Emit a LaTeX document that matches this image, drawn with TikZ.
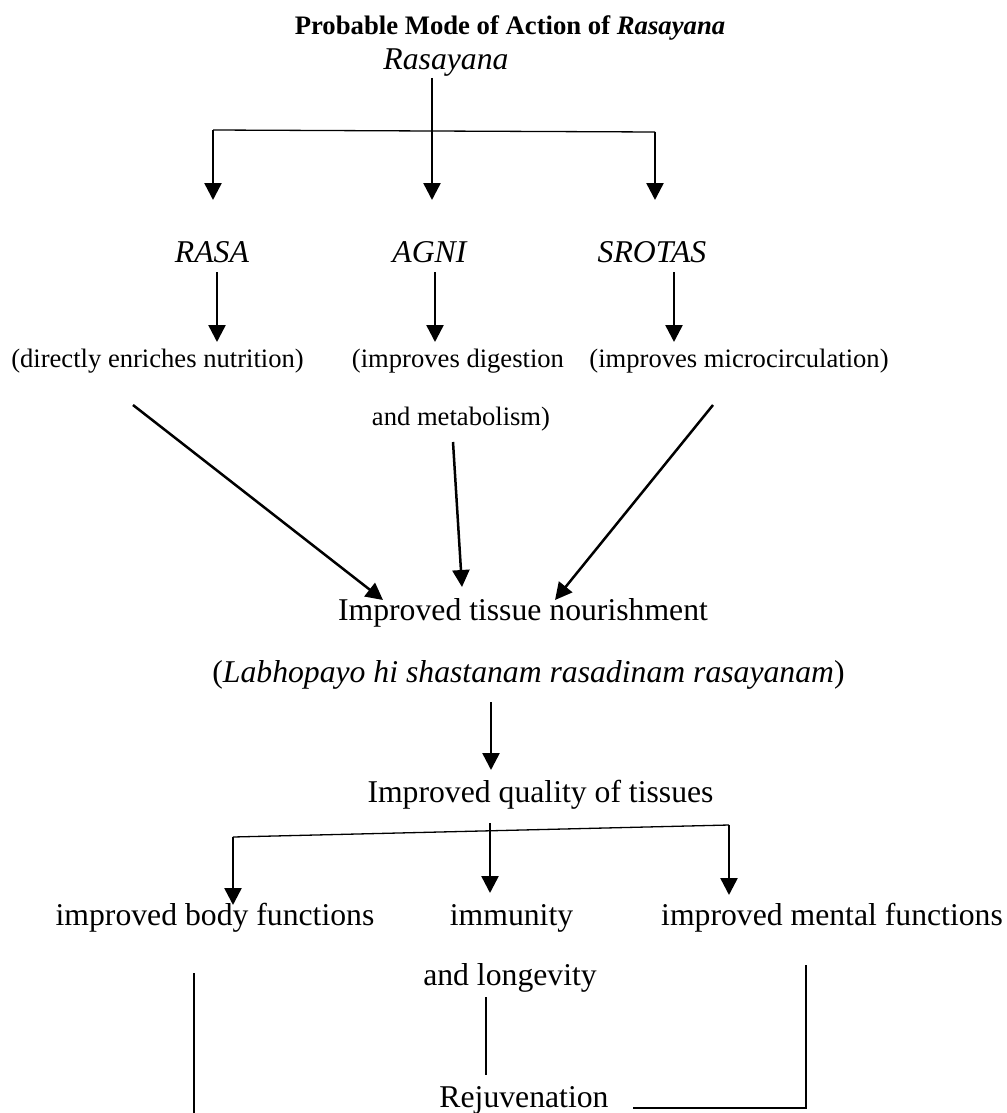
\documentclass[tikz,border=0pt]{standalone}
\usepackage{fontspec}
\setmainfont{Liberation Serif}
\usetikzlibrary{arrows.meta}

\begin{document}
\begin{tikzpicture}[x=1pt, y=-1pt, line join=miter, >={Triangle[length=17pt, width=17pt]},
    big/.style={font=\fontsize{31.7}{38}\selectfont, inner sep=0pt, anchor=base},
    small/.style={font=\fontsize{26.6}{32}\selectfont, inner sep=0pt, anchor=base},
    heading/.style={font=\fontsize{26.7}{32}\selectfont\bfseries, inner sep=0pt, anchor=base},
    flow/.style={->, line width=2.5pt},
    link/.style={line width=1.3pt}]
  % Page frame
  \useasboundingbox (0,0) rectangle (1006,1113);

  % Title and root
  \node[heading] (title) at (510,35) {Probable Mode of Action of \textit{Rasayana}};
  \node[big] (root) at (446,70) {\textit{Rasayana}};

  % Three targets
  \node[big] (rasa) at (212,262) {\textit{RASA}};
  \node[big] (agni) at (430,262) {\textit{AGNI}};
  \node[big] (srotas) at (652,262) {\textit{SROTAS}};

  % Their effects
  \node[small] (nutri) at (157.5,367) {(directly enriches nutrition)};
  \node[small] (diges) at (458,367) {(improves digestion};
  \node[small] (metab) at (461,425) {and metabolism)};
  \node[small] (micro) at (739,367) {(improves microcirculation)};

  % Tissue level
  \node[big] (nourish) at (523,620) {Improved tissue nourishment};
  \node[big] (sutra) at (528.5,682) {(\textit{Labhopayo hi shastanam rasadinam rasayanam})};
  \node[big] (quality) at (540.5,802) {Improved quality of tissues};

  % Outcomes
  \node[big] (body) at (215,925) {improved body functions};
  \node[big] (immun) at (511.5,925) {immunity};
  \node[big] (longev) at (510,985) {and longevity};
  \node[big] (mental) at (832,925) {improved mental functions};
  \node[big] (rejuv) at (524,1107) {Rejuvenation};

  % Branch coordinates
  \coordinate (stem) at (432,131);
  \coordinate (barL) at (213,130);
  \coordinate (barR) at (655,132);
  \coordinate (qL) at (233,837);
  \coordinate (qM) at (490,823);
  \coordinate (qR) at (729,825);

  % Rasayana splits into three
  \draw[link] (432,78) -- (stem);
  \draw[link] (barL) -- (stem) -- (barR);
  \draw[flow] (barL) -- (213,200);
  \draw[flow] (stem) -- (432,200);
  \draw[flow] (barR) -- (655,200);

  % Targets to effects
  \draw[flow] (217,272) -- (217,342);
  \draw[flow] (435,272) -- (435,342);
  \draw[flow] (674,272) -- (674,342);

  % Effects converge on nourishment
  \draw[flow] (133,405) -- (383,600);
  \draw[flow] (453,442) -- (462,587);
  \draw[flow] (713,405) -- (555,600);

  % Nourishment to quality
  \draw[flow] (491,702) -- (491,770);

  % Quality splits into outcomes
  \draw[link] (qL) -- (qR);
  \draw[flow] (qL) -- (233,905);
  \draw[flow] (qM) -- (490,893);
  \draw[flow] (qR) -- (729,895);

  % Outcomes lead to rejuvenation
  \draw[link] (194,973) -- (194,1113);
  \draw[link] (486,997) -- (486,1075);
  \draw[link] (806,965) -- (806,1108) -- (633,1108);
\end{tikzpicture}
\end{document}
